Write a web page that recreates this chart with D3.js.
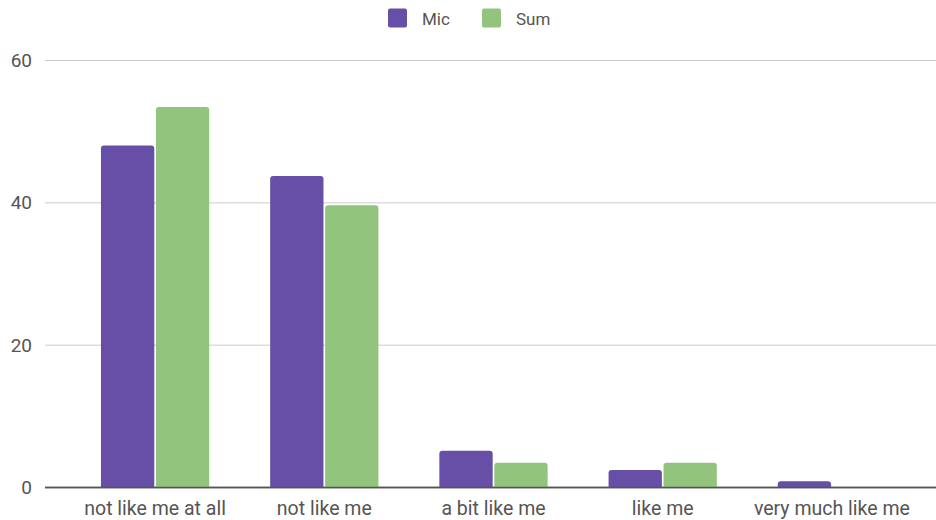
<!DOCTYPE html>
<html><head><meta charset="utf-8">
<script src="https://cdn.jsdelivr.net/npm/d3@7"></script>
<style>body{margin:0;background:#fff}svg{display:block}</style>
</head><body>
<svg id="c" width="936" height="520"></svg>
<script>
const categories = ["not like me at all","not like me","a bit like me","like me","very much like me"];
const seriesNames = ["Mic","Sum"];
const micValues = [48, 43.7, 5.1, 2.4, 0.8];
const sumValues = [53.4, 39.6, 3.4, 3.4, 0];
const yTicks = [0, 20, 40, 60];
const colors = ["#674ea7", "#93c47d"];

const svg = d3.select("#c");
const W = 936, H = 520;
const y = d3.scaleLinear().domain([0, 60]).range([487, 60]);
const x = d3.scaleBand().domain(categories).range([70.5, 916.5]).paddingInner(0.36).paddingOuter(0.18);
const xs = d3.scaleBand().domain(seriesNames).range([0, x.bandwidth()]).paddingInner(0.03);
const font = "Roboto, 'Open Sans', sans-serif";
const textColor = "#555";

// gridlines
const g = svg.append("g");
g.selectAll("line.grid").data(yTicks).join("line")
  .attr("x1", 45).attr("x2", W).attr("y1", d => y(d) + 0.5).attr("y2", d => y(d) + 0.5)
  .attr("stroke", d => d === 0 ? "#555" : "#cccccc").attr("stroke-width", d => d === 0 ? 1.5 : 1);
g.selectAll("text.yl").data(yTicks).join("text")
  .attr("x", 32).attr("y", d => y(d)).attr("dy", "0.36em").attr("text-anchor", "end")
  .attr("font-family", font).attr("font-size", 19).attr("fill", textColor).text(d => d);

function roundTop(x0, y0, w, h, r) {
  if (h <= 0) return "";
  r = Math.min(r, h, w / 2);
  return `M${x0},${y0 + h}V${y0 + r}Q${x0},${y0} ${x0 + r},${y0}H${x0 + w - r}Q${x0 + w},${y0} ${x0 + w},${y0 + r}V${y0 + h}Z`;
}

const data = categories.map((c, i) => ({c, vals: [micValues[i], sumValues[i]]}));
const groups = svg.append("g").selectAll("g").data(data).join("g")
  .attr("transform", d => `translate(${x(d.c)},0)`);
groups.selectAll("path").data(d => d.vals.map((v, j) => ({v, s: seriesNames[j], j}))).join("path")
  .attr("d", d => roundTop(xs(d.s), y(d.v), xs.bandwidth(), y(0) - y(d.v), 3))
  .attr("fill", d => colors[d.j]);

// redraw zero line on top
svg.append("line").attr("x1", 45).attr("x2", W).attr("y1", y(0) + 0.5).attr("y2", y(0) + 0.5)
  .attr("stroke", "#555").attr("stroke-width", 1.5);

// x labels
svg.append("g").selectAll("text").data(categories).join("text")
  .attr("x", d => x(d) + x.bandwidth() / 2).attr("y", 515).attr("text-anchor", "middle")
  .attr("font-family", font).attr("font-size", 19.5).attr("fill", textColor).text(d => d);

// legend
const leg = svg.append("g");
const legX = [388, 482];
seriesNames.forEach((s, i) => {
  leg.append("rect").attr("x", legX[i]).attr("y", 8.5).attr("width", 19).attr("height", 19).attr("rx", 2).attr("fill", colors[i]);
  leg.append("text").attr("x", legX[i] + 34).attr("y", 18.5).attr("dy", "0.36em")
    .attr("font-family", font).attr("font-size", 17).attr("fill", textColor).text(s);
});
</script>
</body></html>
